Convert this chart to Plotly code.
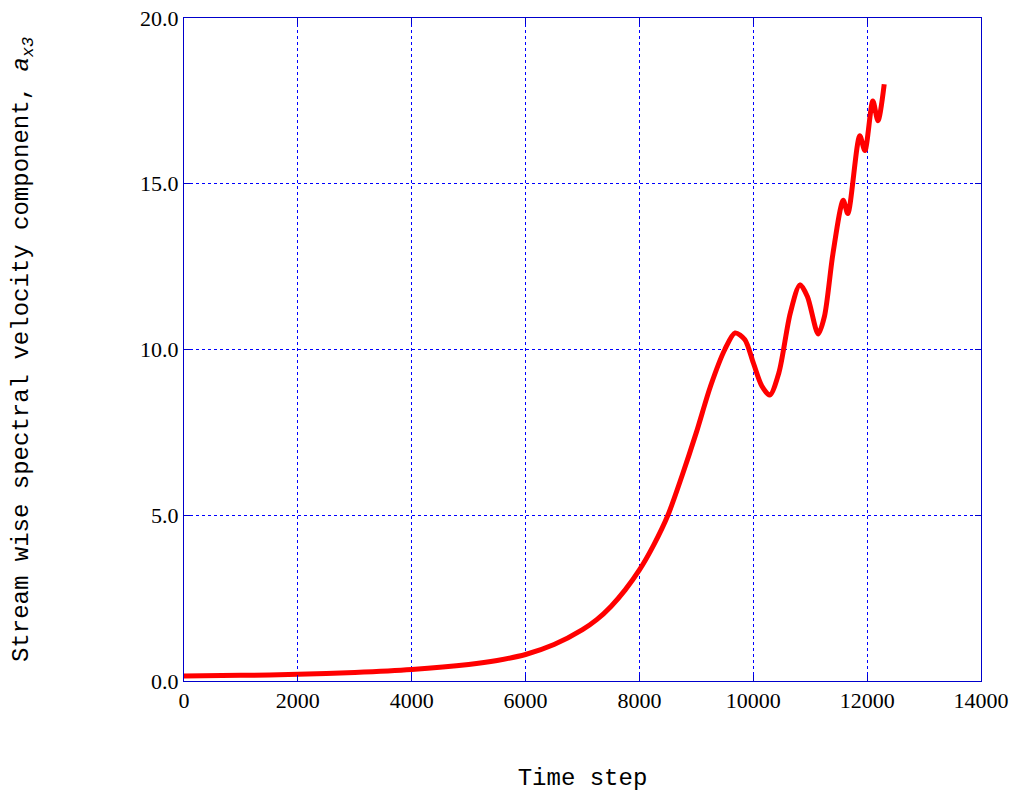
import plotly.graph_objects as go

time_step = [0, 1000, 2000, 3000, 4000, 5000, 5500, 6000, 6500, 7000, 7250, 7500, 7750, 8000, 8250, 8500, 8750, 9000, 9250, 9500, 9680, 9850,
             10000, 10150, 10290, 10450, 10650, 10820, 10950, 11140, 11250, 11400, 11580, 11660, 11870, 11960, 12100, 12190, 12300]
a_x3 = [0.15, 0.17, 0.2, 0.26, 0.35, 0.5, 0.62, 0.8, 1.1, 1.55, 1.85, 2.25, 2.75, 3.35, 4.1, 5.0, 6.2, 7.5, 8.9, 10.0, 10.5, 10.3,
        9.6, 8.9, 8.63, 9.3, 11.1, 11.95, 11.6, 10.47, 11.0, 12.9, 14.5, 14.1, 16.45, 16.0, 17.5, 16.9, 18.0]

fig = go.Figure(go.Scatter(x=time_step, y=a_x3, mode="lines",
                           line=dict(color="red", width=5, shape="spline", smoothing=0.8)))
ax = dict(showline=True, linecolor="#0000cc", linewidth=1, mirror="ticks", ticks="inside", ticklen=6,
          tickcolor="#0000cc", showgrid=True, gridcolor="blue", griddash="dot", gridwidth=1.2, zeroline=False,
          automargin=False, ticklabeloverflow="allow",
          tickfont=dict(family="Liberation Serif", size=22, color="black"))
fig.update_layout(
    width=1024, height=802, paper_bgcolor="white", plot_bgcolor="white", showlegend=False,
    margin=dict(l=176, r=51, t=10, b=129),
    xaxis=dict(ax, range=[0, 14000], dtick=2000, tickformat="d",
               title=dict(text="Time step", font=dict(family="Liberation Mono", size=24, color="black"), standoff=55)),
    yaxis=dict(ax, range=[0, 20], dtick=5, tickformat=".1f",
               title=dict(text="Stream wise spectral velocity component, <i>a</i><sub><i>x3</i></sub>",
                          font=dict(family="Liberation Mono", size=24, color="black"), standoff=125)),
)
fig.write_html("out.html")
